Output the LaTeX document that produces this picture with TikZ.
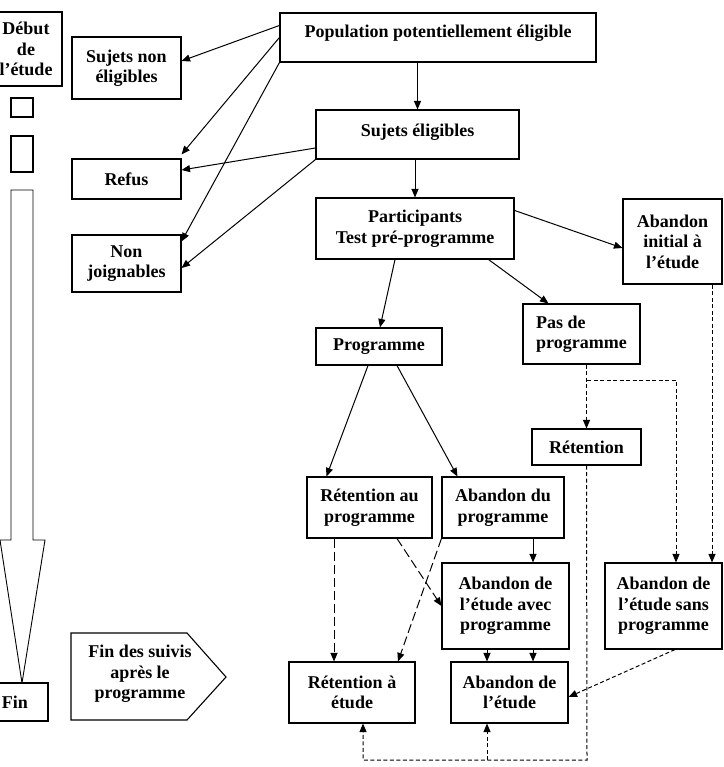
\documentclass[tikz,border=0pt]{standalone}
\usepackage{fontspec}
\setmainfont{Liberation Serif}
\usetikzlibrary{positioning, calc, arrows.meta}
\tikzset{
    boite/.style={rectangle, draw=black, fill=white, line width=1.1pt, align=center, inner sep=1pt, font=\bfseries\fontsize{18}{20.5}\selectfont},
    taille/.style 2 args={minimum width=#1pt, minimum height=#2pt},
    fleche/.style={-{Triangle[length=8.5pt, width=7pt]}, line width=1pt},
    pointille/.style={fleche, dash pattern=on 4pt off 2.5pt},
    tirets/.style={fleche, dash pattern=on 9pt off 4pt},
}

\begin{document}
\begin{tikzpicture}[x=1pt, y=-1pt]
    \useasboundingbox (0,0) rectangle (723,767);

    % Colonne du temps
    \node[boite, taille={72}{74}] (debut) at (26,49) {Début\\de\\l’étude};
    \node[boite, taille={22}{19}] (carre1) at (22,107.5) {};
    \node[boite, taille={22}{36}] (carre2) at (22,154) {};
    \draw[line width=0.9pt] (11,190) -- (11,540) -- (0,540) -- (22,683) -- (45,540) -- (33,540) -- (33,190) -- cycle;
    \node[boite, taille={66}{38}] (fin) at (15,702) {Fin};
    \draw[line width=1.1pt] (71,633) -- (187,633) -- (226,677) -- (187,720) -- (71,720) -- cycle;
    \node[align=center, font=\bfseries\fontsize{18}{20.5}\selectfont] (suivis) at (140,674) {Fin des suivis\\après le\\programme};

    % Recrutement
    \node[boite, taille={316}{49}, text depth=13pt] (pop) at (438,37.5) {Population potentiellement éligible};
    \node[boite, taille={109}{62}] (nonelig) at (126.5,68) {Sujets non\\éligibles};
    \node[boite, taille={109}{40}] (refus) at (126.5,179) {Refus};
    \node[boite, taille={109}{57}] (nonjoin) at (126.5,263.5) {Non\\joignables};
    \node[boite, taille={203}{49}, text depth=9pt] (elig) at (417.5,134.5) {Sujets éligibles};
    \node[boite, taille={198}{61}] (partic) at (415,228.5) {Participants\\Test pré-programme};
    \node[boite, taille={99}{85}] (abinit) at (672.5,241.5) {Abandon\\initial à\\l’étude};

    \draw[fleche] ([yshift=-13pt]pop.north west) -- ([yshift=7pt]nonelig.east);
    \draw[fleche] ([yshift=-25pt]pop.north west) -- ([yshift=4pt]refus.north east);
    \draw[fleche] (pop.south west) -- ([yshift=-7pt]nonjoin.north east);
    \draw[fleche] ([yshift=-13.5pt]elig.west) -- ([yshift=9pt]refus.east);
    \draw[fleche] (elig.south west) -- ([yshift=-4.5pt]nonjoin.east);
    \draw[fleche] (elig.north |- pop.south) -- (elig.north);
    \draw[fleche] (partic.north |- elig.south) -- (partic.north);
    \draw[fleche] ([yshift=-13pt]partic.north east) -- ([yshift=-6.5pt]abinit.west);

    % Programme ou non
    \node[boite, taille={126}{37}] (prog) at (379,346.5) {Programme};
    \node[boite, taille={117}{60}, align=left] (pasprog) at (581.5,334) {Pas de\\programme};
    \node[boite, taille={109}{36}] (reten) at (586.5,447) {Rétention};
    \draw[fleche] ([xshift=-20pt]partic.south) -- ([xshift=1pt]prog.north);
    \draw[fleche] ([xshift=-26pt]partic.south east) -- ([xshift=26pt]pasprog.north west);

    % Suivis
    \node[boite, taille={125}{61}] (retprog) at (369.5,507.5) {Rétention au\\programme};
    \node[boite, taille={122}{61}] (abprog) at (503,507.5) {Abandon du\\programme};
    \node[boite, taille={127}{86}] (avec) at (505.5,606) {Abandon de\\l’étude avec\\programme};
    \node[boite, taille={117}{86}] (sans) at (663.5,606) {Abandon de\\l’étude sans\\programme};
    \node[boite, taille={126}{61}] (retetude) at (352,692.5) {Rétention à\\étude};
    \node[boite, taille={117}{61}] (abetude) at (509.5,692.5) {Abandon de\\l’étude};

    \draw[fleche] ([xshift=-11pt]prog.south) -- ([xshift=20pt]retprog.north west);
    \draw[fleche] ([xshift=18pt]prog.south) -- ([xshift=16pt]abprog.north west);
    \draw[fleche] ([xshift=27.5pt]avec.north |- abprog.south) -- ([xshift=27.5pt]avec.north);
    \draw[fleche] ([xshift=-18.5pt]avec.south) -- ([xshift=-18.5pt]avec.south |- abetude.north);
    \draw[fleche] ([xshift=27.5pt]avec.south) -- ([xshift=27.5pt]avec.south |- abetude.north);

    % Liens en tirets
    \draw[tirets] ([xshift=-35.5pt]retprog.south) -- ([xshift=-35.5pt]retprog.south |- retetude.north);
    \draw[tirets] ([xshift=27.5pt]retprog.south) -- (avec.west);
    \draw[tirets] (abprog.south west) -- ([xshift=46pt]retetude.north);

    % Liens en pointillés
    \coordinate (bif) at (587,380);
    \coordinate (bas) at (587,760);
    \draw[pointille] (reten.north |- pasprog.south) -- (reten.north);
    \draw[pointille] (bif) -| ([xshift=12.5pt]sans.north);
    \draw[pointille] ([xshift=39.5pt]abinit.south) -- ([xshift=39.5pt]abinit.south |- sans.north);
    \draw[pointille] ([xshift=11.5pt]sans.south) -- ([yshift=-4.5pt]abetude.east);
    \draw[pointille] (reten.south) -- (bas) -| ([xshift=11pt]retetude.south);
    \draw[pointille] ([xshift=-22.5pt]abetude.south |- bas) -- ([xshift=-22.5pt]abetude.south);
\end{tikzpicture}
\end{document}
